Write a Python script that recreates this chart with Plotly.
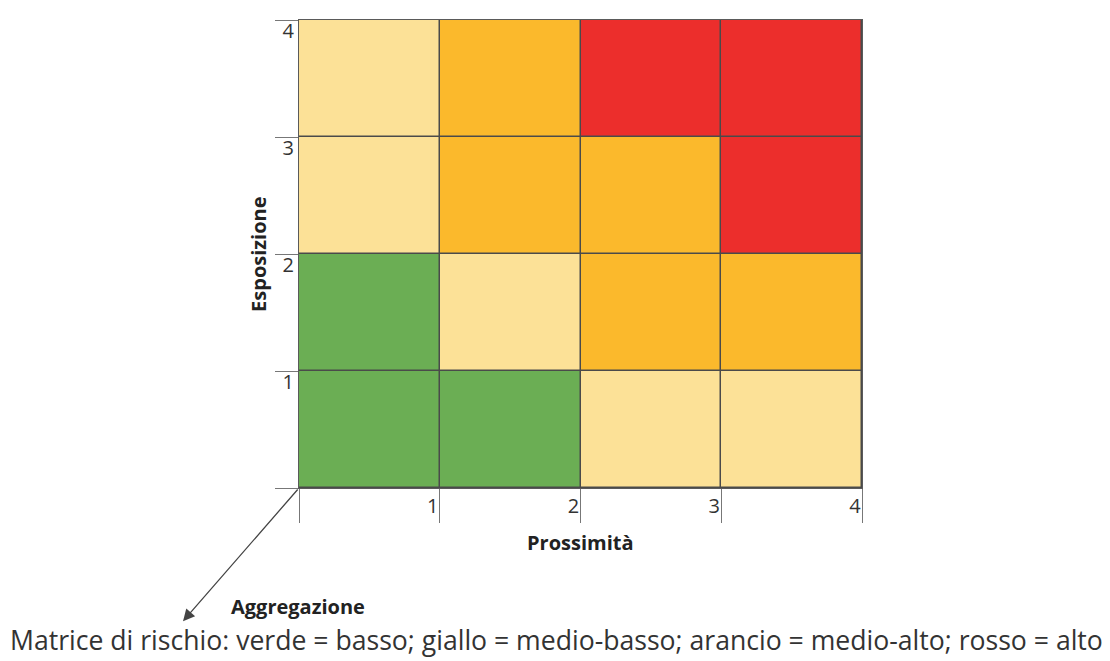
import plotly.graph_objects as go

# Data
prossimita = [1, 2, 3, 4]          # x categories (columns)
esposizione = [1, 2, 3, 4]         # y categories (rows)
levels = ["verde", "giallo", "arancio", "rosso"]
level_colors = ["#6BAE54", "#FCE197", "#FBB92C", "#EC2E2C"]
# risk level per row (Esposizione 1..4), per column (Prossimità 1..4)
row_1 = ["verde", "verde", "giallo", "giallo"]
row_2 = ["verde", "giallo", "arancio", "arancio"]
row_3 = ["giallo", "arancio", "arancio", "rosso"]
row_4 = ["giallo", "arancio", "rosso", "rosso"]
x_title = "Prossimità"
y_title = "Esposizione"
arrow_label = "Aggregazione"
caption = "Matrice di rischio: verde = basso; giallo = medio-basso; arancio = medio-alto; rosso = alto"

rows = [row_1, row_2, row_3, row_4]
z = [[levels.index(c) for c in r] for r in rows]
n = len(levels)
colorscale = []
for i, col in enumerate(level_colors):
    colorscale.append([i / n, col])
    colorscale.append([(i + 1) / n, col])

xc = [p - 0.5 for p in prossimita]
yc = [e - 0.5 for e in esposizione]

fig = go.Figure(go.Heatmap(
    z=z, x=xc, y=yc, colorscale=colorscale, zmin=-0.5, zmax=n - 0.5,
    showscale=False, xgap=1.5, ygap=1.5, hoverinfo="skip",
))

line_col = "#5a5a5a"
tick_font = dict(family="Open Sans", size=20, color="#333")
fig.update_xaxes(
    range=[0, len(prossimita)], tickvals=[0] + prossimita,
    ticktext=[""] + [str(p) for p in prossimita],
    ticks="outside", ticklen=34, tickwidth=1.3, tickcolor="#777",
    ticklabelposition="outside left",
    showgrid=False, zeroline=False, showline=True, linecolor=line_col, linewidth=1.3,
    mirror=True, tickfont=tick_font,
)
fig.update_yaxes(
    range=[0, len(esposizione)], tickvals=[0] + esposizione,
    ticktext=[""] + [str(e) for e in esposizione],
    ticks="outside", ticklen=23, tickwidth=1.3, tickcolor="#777",
    ticklabelposition="outside bottom", ticklabelshift=-4,
    showgrid=False, zeroline=False, showline=True, linecolor=line_col, linewidth=1.3,
    mirror=True, tickfont=tick_font,
)

title_font = dict(family="Open Sans", size=20, color="#222")
common = dict(xref="paper", yref="paper", showarrow=False, xanchor="center", yanchor="middle")
fig.add_annotation(x=0.5, y=-0.117, text=f"<b>{x_title}</b>", font=title_font, **common)
fig.add_annotation(x=-0.073, y=0.5, text=f"<b>{y_title}</b>", textangle=-90,
                   font=title_font, **common)
fig.add_annotation(x=-0.824, y=-1.138, xref="x", yref="y", ax=0, ay=0,
                   axref="x", ayref="y", text="", showarrow=True, arrowhead=2,
                   arrowsize=1.8, arrowwidth=1.3, arrowcolor="#444")
fig.add_annotation(x=-0.002, y=-0.253, text=f"<b>{arrow_label}</b>", font=title_font, **common)
fig.add_annotation(x=0.4565, y=-0.325, text=caption,
                   font=dict(family="Open Sans", size=26.6, color="#333"), **common)

fig.update_layout(
    width=1110, height=661, margin=dict(l=291, r=256, t=9, b=181),
    paper_bgcolor="white", plot_bgcolor="#4a4a4a", showlegend=False,
)
fig.write_html("out.html")
